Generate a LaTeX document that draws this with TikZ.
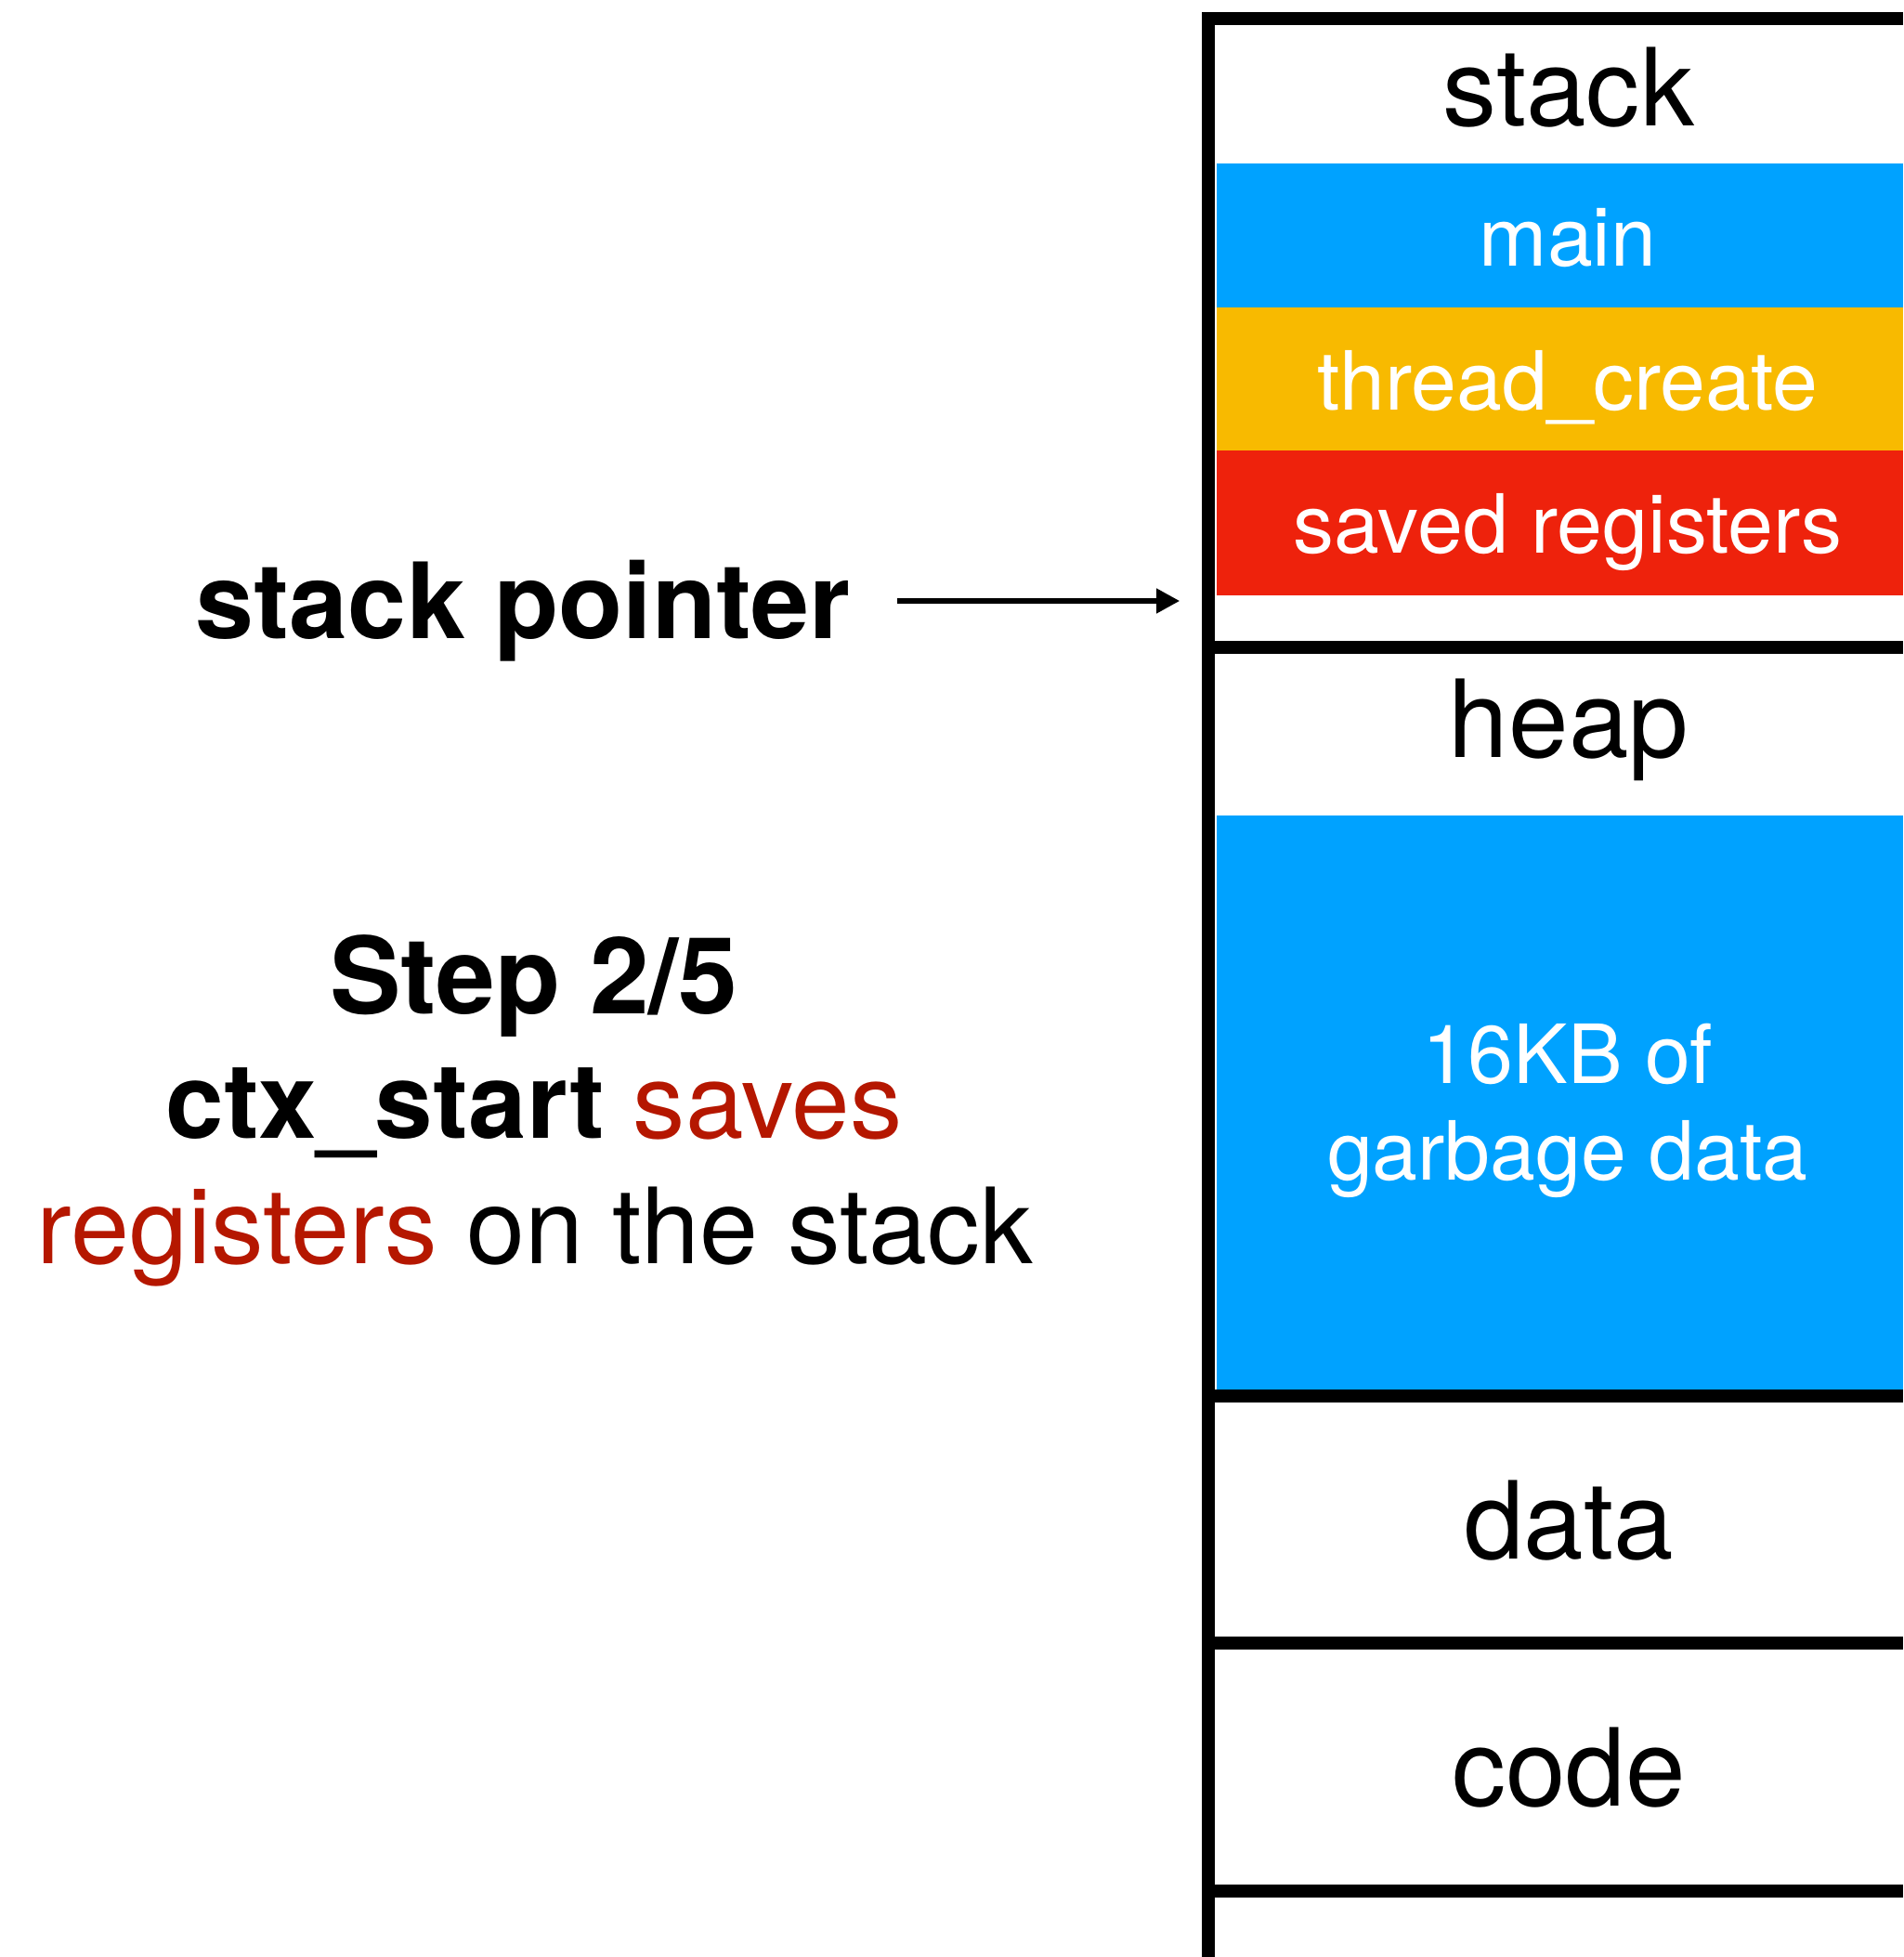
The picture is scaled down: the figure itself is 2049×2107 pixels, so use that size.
\documentclass[tikz,border=0pt]{standalone}
\usepackage{fontspec}
\setmainfont{TeX Gyre Heros}
\usetikzlibrary{arrows.meta}
\definecolor{memblue}{HTML}{00A2FF}
\definecolor{memyellow}{HTML}{F8BA00}
\definecolor{memred}{HTML}{EE220C}
\definecolor{notered}{HTML}{B51700}

\begin{document}
\begin{tikzpicture}[x=0.01cm,y=-0.01cm,
  big/.style={font=\fontsize{32.2pt}{38pt}\selectfont, inner sep=0pt, anchor=base},
  region/.style={font=\fontsize{33pt}{38pt}\selectfont, inner sep=0pt, anchor=base},
  small/.style={font=\fontsize{25pt}{30pt}\selectfont, text=white, inner sep=0pt, anchor=base},
  frame/.style={line width=0.14cm, line join=miter, line cap=butt},
  pointer/.style={line width=0.05cm, -{Triangle[length=0.25cm,width=0.26cm]}}]

\useasboundingbox (0,0) rectangle (2049,2107);

% stack frames
\fill[memblue]   (1310,176) rectangle (2049,332);
\fill[memyellow] (1310,331) rectangle (2049,486);
\fill[memred]    (1310,485) rectangle (2049,641);
% heap contents
\fill[memblue]   (1310,878) rectangle (2049,1497);

% memory column outline and region separators
\draw[frame] (1301,2107) -- (1301,20) -- (2049,20);
\draw[frame] (1301,697)  -- (2049,697);
\draw[frame] (1301,1503) -- (2049,1503);
\draw[frame] (1301,1769) -- (2049,1769);
\draw[frame] (1301,2036) -- (2049,2036);

% region labels
\node[region] (stackLbl) at (1689,136)  {stack};
\node[region] (heapLbl)  at (1689,815)  {heap};
\node[region] (dataLbl)  at (1689,1678) {data};
\node[region] (codeLbl)  at (1689,1944) {code};

% frame labels
\node[small] (mainLbl)   at (1688,287) {main};
\node[small] (threadLbl) at (1688,442) {thread\_create};
\node[small] (savedLbl)  at (1688,596) {saved registers};
\node[small] (garbA) at (1688,1166) {16KB of};
\node[small] (garbB) at (1688,1270) {garbage data};

% stack pointer
\node[big, font=\fontsize{32.2pt}{38pt}\selectfont\bfseries] (spLbl) at (563,688) {stack pointer};
\coordinate (spTail) at (966,647);
\coordinate (spTip)  at (1270,647);
\draw[pointer] (spTail) -- (spTip);

% step caption
\node[big, font=\fontsize{32.6pt}{38pt}\selectfont\bfseries] (stepLbl) at (575,1091) {Step 2/5};
\node[big, font=\fontsize{32pt}{38pt}\selectfont] (stepA) at (575,1225) {\textbf{ctx\_start} \textcolor{notered}{saves}};
\node[big] (stepB) at (576,1360) {\textcolor{notered}{registers} on the stack};

\end{tikzpicture}
\end{document}
